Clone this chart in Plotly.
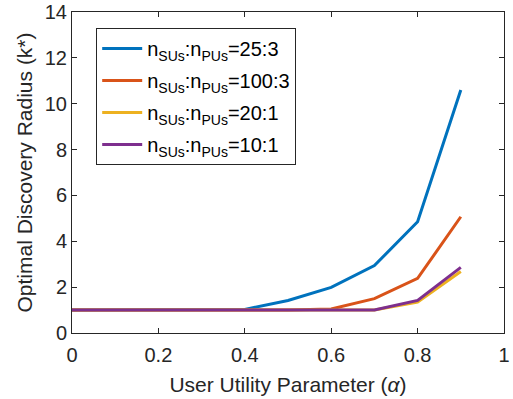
import plotly.graph_objects as go

alpha = [0, 0.1, 0.2, 0.3, 0.4, 0.5, 0.6, 0.7, 0.8, 0.9]
r_25_3 = [1, 1, 1, 1, 1.03, 1.42, 1.99, 2.94, 4.85, 10.6]
r_100_3 = [1, 1, 1, 1, 1, 1, 1.05, 1.5, 2.38, 5.07]
r_20_1 = [1, 1, 1, 1, 1, 1, 1, 1, 1.35, 2.68]
r_10_1 = [1, 1, 1, 1, 1, 1, 1, 1, 1.42, 2.86]

names = ["n<sub>SUs</sub>:n<sub>PUs</sub>=25:3",
         "n<sub>SUs</sub>:n<sub>PUs</sub>=100:3",
         "n<sub>SUs</sub>:n<sub>PUs</sub>=20:1",
         "n<sub>SUs</sub>:n<sub>PUs</sub>=10:1"]
series = [r_25_3, r_100_3, r_20_1, r_10_1]
colors = ["#0072BD", "#D95319", "#EDB120", "#7E2F8E"]

fig = go.Figure()
for i, (n, s, c) in enumerate(zip(names, series, colors)):
    fig.add_trace(go.Scatter(x=alpha, y=s, mode="lines", name=n, legendgroup=f"g{i}",
                             line=dict(color=c, width=3)))

axis_common = dict(showgrid=False, zeroline=False, showline=True, linecolor="#262626",
                   linewidth=1, mirror="ticks", ticks="inside", ticklen=5, automargin=False,
                   tickcolor="#262626", tickfont=dict(size=20, color="#262626"))

fig.update_layout(
    width=513, height=399,
    margin=dict(l=72, r=9, t=12, b=66),
    plot_bgcolor="white", paper_bgcolor="white",
    font=dict(family="Liberation Sans, Arial, sans-serif", color="#262626"),
    xaxis=dict(range=[0, 1], tickvals=[0, 0.2, 0.4, 0.6, 0.8, 1],
               ticktext=["0", "0.2", "0.4", "0.6", "0.8", "1"], ticklabelstandoff=4,
               title=dict(text="User Utility Parameter (<i>α</i>)", font=dict(size=21), standoff=12),
               **axis_common),
    yaxis=dict(range=[0, 14], tickvals=[0, 2, 4, 6, 8, 10, 12, 14],
               title=dict(text="Optimal Discovery Radius (k*)", font=dict(size=21), standoff=6),
               **axis_common),
    legend=dict(x=0.056, y=0.95, xanchor="left", yanchor="top",
                bgcolor="white", bordercolor="#262626", borderwidth=1,
                font=dict(size=20, color="#000000"), tracegroupgap=3,
                itemwidth=40, entrywidth=150),
    showlegend=True,
)

fig.write_html("out.html")
